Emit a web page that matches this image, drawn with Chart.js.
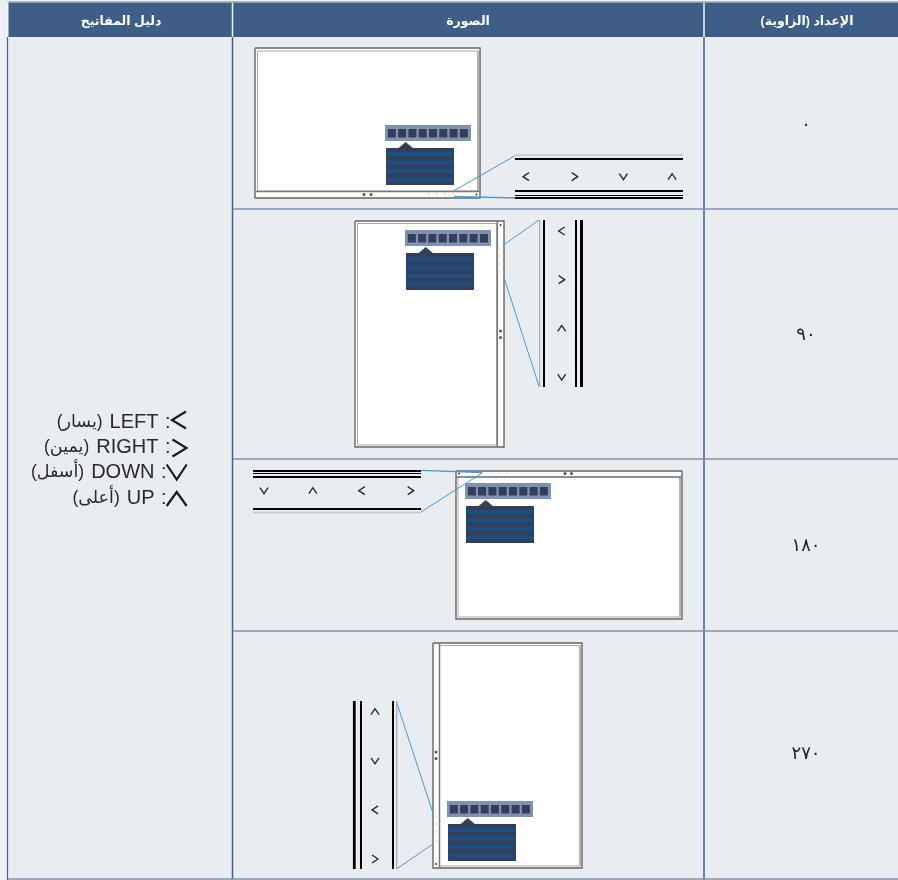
<!DOCTYPE html>
<html lang="ar">
<head>
<meta charset="utf-8">
<title>Rotation key guide</title>
<script src="https://cdn.jsdelivr.net/npm/chart.js@4"></script>
<style>
    html, body { margin: 0; padding: 0; background: #ffffff; }
    canvas { display: block; }
</style>
</head>
<body>
<canvas id="keyChart" width="898" height="880"></canvas>
<script>
// text of the table
const headers = ["دليل المفاتيح", "الصورة", "الإعداد (الزاوية)"];
const angles = ["٠", "٩٠", "١٨٠", "٢٧٠"];
const keyNames = ["LEFT", "RIGHT", "DOWN", "UP"];
const keyArabic = ["يسار", "يمين", "أسفل", "أعلى"];
const keyGlyphs = ["left", "right", "down", "up"];

// buttons in the order they appear on each zoomed strip
const row0Keys = ["left", "right", "down", "up"];
const row1Keys = ["left", "right", "up", "down"];
const row2Keys = ["down", "up", "left", "right"];
const row3Keys = ["up", "down", "left", "right"];

const HEADER = "#3e5e87";
const CELL = "#e9edf1";
const LINE = "#41639a";
const ROW_LINE = "#7f95b3";
const BLUE = "#4a9ad6";
const INK = "#2b2b2b";

const datasets = [];

function polyline(points, color, width) {
    datasets.push({
        data: points.map(p => ({ x: p[0], y: p[1] })),
        borderColor: color,
        borderWidth: width,
        pointRadius: 0,
        tension: 0,
        showLine: true,
        fill: false
    });
}

function shape(points, color) {
    datasets.push({
        data: points.map(p => ({ x: p[0], y: p[1] })),
        borderWidth: 0,
        borderColor: color,
        backgroundColor: color,
        pointRadius: 0,
        tension: 0,
        showLine: true,
        fill: "shape"
    });
}

function box(x0, y0, x1, y1, color) {
    shape([[x0, y0], [x1, y0], [x1, y1], [x0, y1], [x0, y0]], color);
}

function frame(x0, y0, x1, y1, color, width) {
    polyline([[x0, y0], [x1, y0], [x1, y1], [x0, y1], [x0, y0]], color, width);
}

function dot(x, y, color, size) {
    datasets.push({
        data: [{ x, y }],
        backgroundColor: color,
        borderWidth: 0,
        pointRadius: size,
        showLine: false
    });
}

// arrow on a key, a is half of the long side, b half of the short one
function chevron(kind, x, y, a, b, color, width) {
    if (kind === "left") polyline([[x + b, y - a], [x - b, y], [x + b, y + a]], color, width);
    if (kind === "right") polyline([[x - b, y - a], [x + b, y], [x - b, y + a]], color, width);
    if (kind === "up") polyline([[x - a, y + b], [x, y - b], [x + a, y + b]], color, width);
    if (kind === "down") polyline([[x - a, y - b], [x, y + b], [x + a, y - b]], color, width);
}

// on screen menu, x and y are top left of the icon bar
function osd(x, y) {
    box(x, y, x + 86, y + 16, "#7f92b1");
    [0, 1, 2, 3, 4, 5, 6, 7].forEach(i => {
        box(x + 2.8 + i * 10.3, y + 4, x + 10.8 + i * 10.3, y + 12.5, "#333f58");
    });
    shape([[x + 12.5, y + 24], [x + 20.7, y + 17], [x + 29, y + 24], [x + 12.5, y + 24]], "#333f58");
    box(x + 1, y + 23, x + 69, y + 60, "#323f5a");
    [0, 1, 2, 3].forEach(i => {
        box(x + 1.5, y + 27 + i * 8.4, x + 68.5, y + 31.3 + i * 8.4, "#1e4e80");
    });
}

// page edge and table background
box(0, 0, 898, 880, "#eef0f3");
box(7, 1, 898, 2.5, "#a9b6c8");
box(7, 2.5, 898, 37, "#f4f6f8");
box(8.5, 2.5, 898, 37, HEADER);
box(8, 37, 898, 879, CELL);
polyline([[232.5, 3], [232.5, 37]], "#f2f4f7", 1.5);
polyline([[704, 3], [704, 37]], "#f2f4f7", 1.5);
polyline([[7.5, 37], [7.5, 880]], LINE, 1.2);
polyline([[232.5, 37], [232.5, 880]], LINE, 1.5);
polyline([[704, 37], [704, 880]], LINE, 1.5);
[209, 459, 631, 879].forEach(y => polyline([[233, y], [898, y]], ROW_LINE, 1.5));
polyline([[8, 879], [233, 879]], ROW_LINE, 1.5);

// 0 degrees
box(255, 48, 480, 198, "#ffffff");
frame(257.5, 51, 478, 191, "#a9a9a9", 1);
frame(255, 48, 480, 198, "#666666", 1.4);
polyline([[255, 191.5], [480, 191.5]], "#777777", 1.5);
osd(385, 125);
dot(364, 194.5, "#555555", 1.5);
dot(371, 194.5, "#555555", 1.5);
dot(476.5, 194.5, "#333333", 1);
[429, 437, 445, 453].forEach(x => dot(x, 194, "#c4c4c4", 0.8));
polyline([[453.5, 191], [515.5, 155.5]], BLUE, 1);
polyline([[454, 196.5], [515.5, 198]], BLUE, 1.3);
polyline([[515, 155], [683, 155]], "#c3c6c9", 1.5);
polyline([[515, 159], [683, 159]], "#000000", 2.2);
polyline([[515, 191], [683, 191]], "#000000", 2);
polyline([[515, 195.5], [683, 195.5]], "#000000", 1);
polyline([[515, 198], [683, 198]], "#000000", 2);
row0Keys.forEach((k, i) => chevron(k, 526 + i * 48.7, 176.7, 4, 3, INK, 1.4));

// 90 degrees
box(355, 221, 504, 447, "#ffffff");
frame(357.5, 223.5, 497, 445, "#a9a9a9", 1);
frame(355, 221, 504, 447, "#666666", 1.4);
polyline([[497.3, 221], [497.3, 447]], "#777777", 1.5);
osd(405, 230);
dot(500.5, 225, "#333333", 1);
dot(500.5, 331, "#555555", 1.5);
dot(500.5, 337.5, "#555555", 1.5);
[248, 256, 264, 272].forEach(y => dot(499.5, y, "#c4c4c4", 0.8));
polyline([[503.5, 245], [539, 220]], BLUE, 1);
polyline([[503.5, 276], [539.3, 387]], BLUE, 1);
polyline([[539.7, 220], [539.7, 387]], "#a9adb1", 1.2);
polyline([[544, 220], [544, 387]], "#000000", 2);
polyline([[576, 220], [576, 387]], "#000000", 2);
polyline([[581.5, 220], [581.5, 387]], "#000000", 3);
row1Keys.forEach((k, i) => chevron(k, 561.7, 231 + i * 48.7, 4, 3, INK, 1.4));

// 180 degrees
box(456, 471, 682, 619, "#ffffff");
frame(458, 477, 680, 617, "#a9a9a9", 1);
frame(456, 471, 682, 619, "#666666", 1.4);
polyline([[456, 477], [682, 477]], "#777777", 1.5);
osd(465, 483);
dot(459, 473.5, "#333333", 1);
dot(565, 473.5, "#555555", 1.5);
dot(571.5, 473.5, "#555555", 1.5);
[483, 491, 499, 507].forEach(x => dot(x, 473.5, "#c4c4c4", 0.8));
polyline([[421, 470.3], [482, 472.5]], BLUE, 1.3);
polyline([[421, 512], [482, 473]], BLUE, 1);
polyline([[253, 471], [421, 471]], "#000000", 2);
polyline([[253, 473.5], [421, 473.5]], "#000000", 1);
polyline([[253, 477], [421, 477]], "#000000", 2);
polyline([[253, 509], [421, 509]], "#000000", 2.2);
polyline([[253, 512.5], [421, 512.5]], "#c3c6c9", 1.5);
row2Keys.forEach((k, i) => chevron(k, 264 + i * 48.9, 490.7, 4, 3, INK, 1.4));

// 270 degrees
box(433, 643, 582, 868, "#ffffff");
frame(439.5, 645.5, 580, 866, "#a9a9a9", 1);
frame(433, 643, 582, 868, "#666666", 1.4);
polyline([[439.5, 643], [439.5, 868]], "#777777", 1.5);
osd(447, 801);
dot(436, 864, "#333333", 1);
dot(436, 752, "#555555", 1.5);
dot(436, 758.5, "#555555", 1.5);
[816, 824, 832, 841].forEach(y => dot(437, y, "#c4c4c4", 0.8));
polyline([[396.5, 702], [433, 813]], BLUE, 1);
polyline([[396.5, 869], [433, 844]], BLUE, 1);
polyline([[396.7, 701], [396.7, 869]], "#a9adb1", 1.2);
polyline([[354.3, 701], [354.3, 869]], "#000000", 2.8);
polyline([[361, 701], [361, 869]], "#000000", 2);
polyline([[393, 701], [393, 869]], "#000000", 2);
row3Keys.forEach((k, i) => chevron(k, 375, 711.7 + i * 49.1, 4, 3, INK, 1.4));

// key guide glyphs, the two lower ones are wider
chevron(keyGlyphs[0], 179, 420, 8.5, 7, "#1c1c1c", 2.2);
chevron(keyGlyphs[1], 179.5, 448, 8.5, 7, "#1c1c1c", 2.2);
chevron(keyGlyphs[2], 176.7, 472, 10, 7.5, "#1c1c1c", 2.2);
chevron(keyGlyphs[3], 176.7, 499, 10, 7, "#1c1c1c", 2.2);

// first pushed is drawn first
datasets.reverse();

const tablePlugin = {
    id: "tableText",
    afterDatasetsDraw(chart) {
        const c = chart.ctx;
        const sx = chart.scales.x, sy = chart.scales.y;
        const put = (text, x, y, font, color, align, spacing) => {
            c.save();
            c.font = font;
            c.fillStyle = color;
            c.direction = "rtl";
            c.textAlign = align;
            c.textBaseline = "middle";
            c.letterSpacing = spacing || "0px";
            c.fillText(text, sx.getPixelForValue(x), sy.getPixelForValue(y));
            c.restore();
        };
        const headFont = "bold 12.5px 'Liberation Sans', 'DejaVu Sans', sans-serif";
        [121, 468, 807].forEach((x, i) => put(headers[i], x, 21.5, headFont, "#ffffff", "center"));
        [125, 335, 546, 754].forEach((y, i) => {
            put(angles[i], 806, y, "18px 'Liberation Serif', 'DejaVu Sans', serif", "#222222", "center", "3px");
        });
        // colon, name and arabic word are placed one by one, the last two lines sit further left
        const nameFont = "20px 'Liberation Sans', 'DejaVu Sans', sans-serif";
        const wordFont = "17.5px 'Liberation Sans', 'DejaVu Sans', sans-serif";
        [422, 447, 472, 498].forEach((y, i) => {
            const right = i < 2 ? 158.5 : 154.5;
            put(":", right + 12, y, nameFont, "#2a2a2a", "right");
            put(keyNames[i], right, y, nameFont, "#2a2a2a", "right");
            c.save();
            c.font = nameFont;
            const w = c.measureText(keyNames[i]).width;
            c.restore();
            put("(" + keyArabic[i] + ")", right - w - 7, y, wordFont, "#2a2a2a", "right");
        });
    }
};

new Chart(document.getElementById("keyChart"), {
    type: "scatter",
    data: { datasets },
    options: {
        responsive: false,
        animation: false,
        layout: { padding: 0, autoPadding: false },
        plugins: {
            legend: { display: false },
            tooltip: { enabled: false }
        },
        scales: {
            x: { type: "linear", min: 0, max: 898, display: false },
            y: { type: "linear", min: 0, max: 880, reverse: true, display: false }
        }
    },
    plugins: [tablePlugin]
});
</script>
</body>
</html>
